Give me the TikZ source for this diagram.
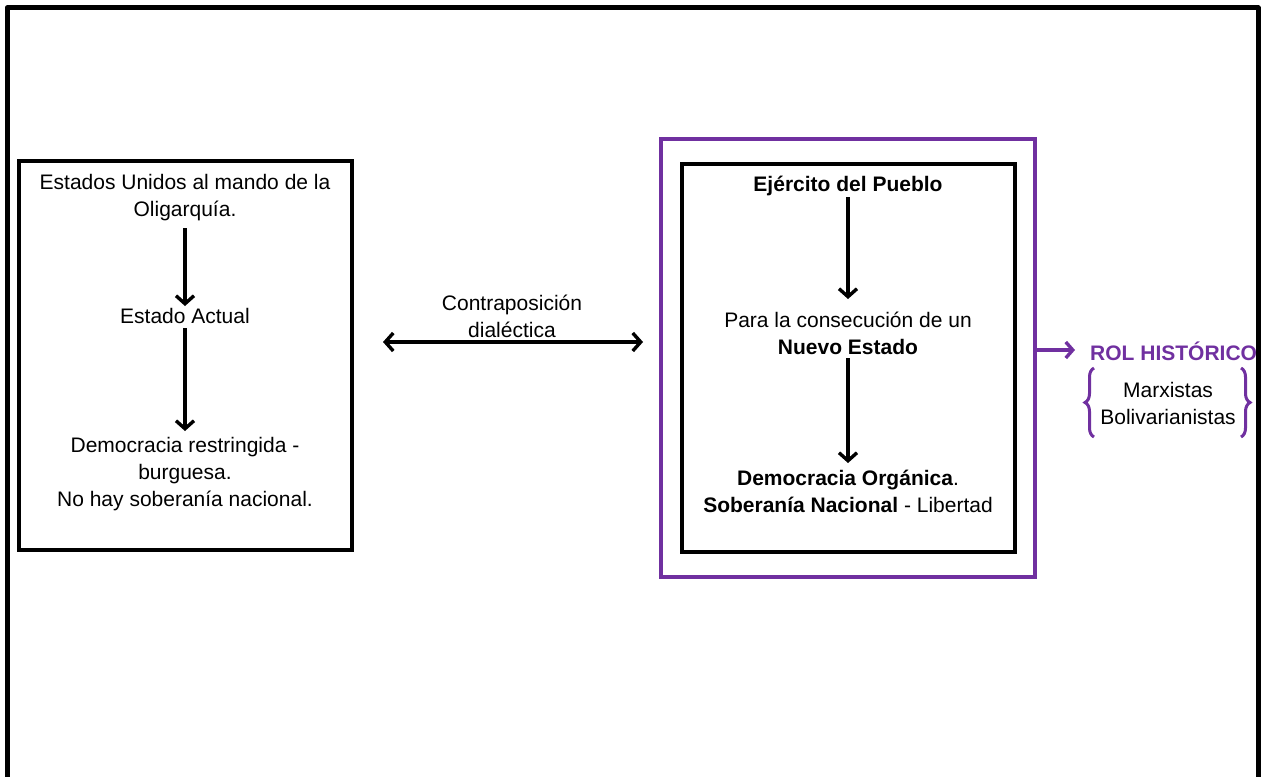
\documentclass[tikz,border=0pt]{standalone}
\usepackage{fontspec}
\setmainfont{Liberation Sans}
\usetikzlibrary{arrows.meta,decorations.pathreplacing}
\definecolor{purp}{HTML}{7030A0}
\begin{document}
\begin{tikzpicture}[x=1pt,y=-1pt,
  txt/.style={align=center,font=\fontsize{21}{27}\selectfont,inner sep=2pt},
  boxk/.style={draw=black,line width=3.8pt,inner sep=0pt},
  boxp/.style={draw=purp,line width=3.8pt,inner sep=0pt},
  tip/.style={},
  arr/.style={line width=3.4pt,-{Straight Barb[length=8pt,width=18pt,line width=3.4pt]}},
  darr/.style={line width=3.4pt,{Straight Barb[length=8pt,width=18pt,line width=3.4pt]}-{Straight Barb[length=8pt,width=18pt,line width=3.4pt]}},
  parr/.style={draw=purp,line width=3.4pt,-{Straight Barb[length=7pt,width=16pt,line width=3.4pt]}},
  pbrace/.style={draw=purp,line width=3pt,decorate,decoration={brace,amplitude=9pt}}]
\useasboundingbox (0,0) rectangle (1268,776);
\clip (0,0) rectangle (1268,776);
% outer frame (open at the bottom, running off the picture)
\draw[line width=5pt,line join=round] (7,800) -- (7,8) -- (1258,8) -- (1258,800);

% left box
\node[boxk,minimum width=333pt,minimum height=389pt] (lbox) at (185.5,355.5) {};
\node[txt] (l1) at (185,197.5) {Estados Unidos al mando de la\\Oligarquía.};
\node[txt] (l2) at (185,316) {Estado Actual};
\node[txt] (l3) at (185,474) {Democracia restringida -\\burguesa.\\No hay soberanía nacional.};
\coordinate (a1s) at (185,228);
\coordinate (a1e) at (185,306);
\coordinate (a2s) at (185,328);
\coordinate (a2e) at (185,431);
\draw[arr] (a1s) -- (a1e);
\draw[arr] (a2s) -- (a2e);

% middle
\node[txt] (mid) at (512,316) {Contraposición\\dialéctica};
\coordinate (dl) at (383,342);
\coordinate (dr) at (643,342);
\draw[darr] (dl) -- (dr);

% right boxes
\node[boxp,minimum width=374pt,minimum height=438pt] (pbox) at (848,358) {};
\node[boxk,minimum width=333pt,minimum height=388pt] (rbox) at (848.5,358) {};
\node[txt] (r1) at (848,186) {\bfseries Ejército del Pueblo};
\node[txt] (r2) at (848,333) {Para la consecución de un\\\bfseries Nuevo Estado};
\node[txt] (r3) at (848,491) {\textbf{Democracia Orgánica}.\\\textbf{Soberanía Nacional} - Libertad};
\coordinate (b1s) at (848,197);
\coordinate (b1e) at (848,299);
\coordinate (b2s) at (848,358);
\coordinate (b2e) at (848,463);
\draw[arr] (b1s) -- (b1e);
\draw[arr] (b2s) -- (b2e);

% historic role
\coordinate (ps) at (1035,350);
\coordinate (pe) at (1075,350);
\draw[parr] (ps) -- (pe);
\node[txt,text=purp,anchor=west,inner sep=0pt] (rol) at (1090,351) {\bfseries ROL HISTÓRICO};
\node[txt] (mb) at (1168,403) {Marxistas\\Bolivarianistas};
\coordinate (lb1) at (1094,437);
\coordinate (lb2) at (1094,368);
\coordinate (rb1) at (1241,368);
\coordinate (rb2) at (1241,437);
\draw[pbrace] (lb1) -- (lb2);
\draw[pbrace] (rb1) -- (rb2);
\end{tikzpicture}
\end{document}
